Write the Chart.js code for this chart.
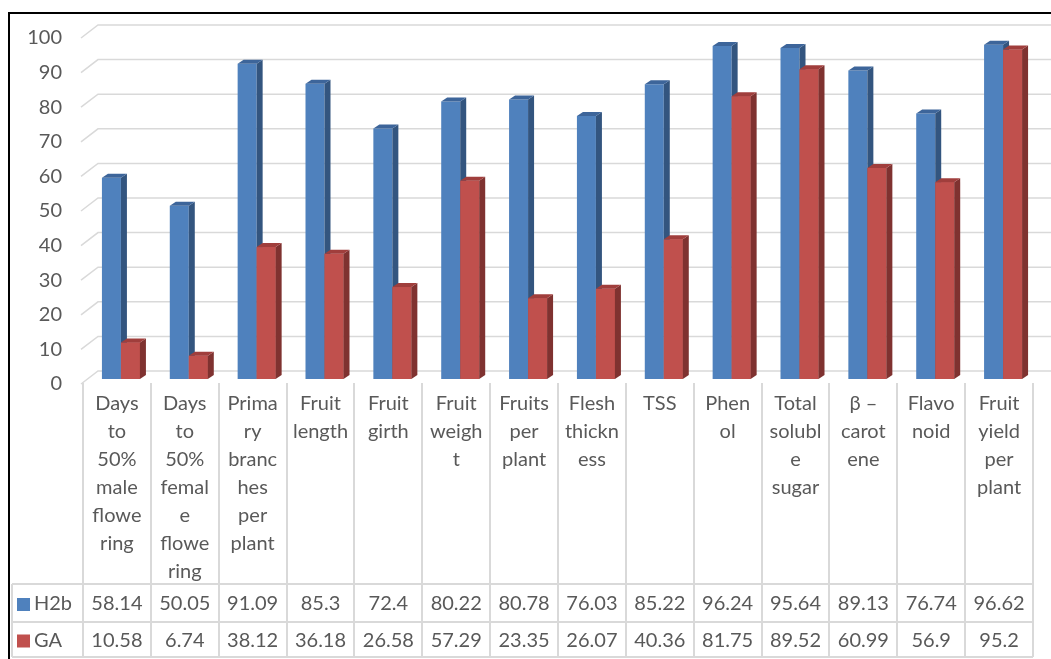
<!DOCTYPE html>
<html>
<head>
<meta charset="utf-8">
<script src="https://cdn.jsdelivr.net/npm/chart.js@4.4.1/dist/chart.umd.min.js"></script>
<style>
  body { margin: 0; background: #fff; }
  canvas { display: block; }
</style>
</head>
<body>
<canvas id="chart" width="1051" height="659"></canvas>
<script>
// category labels, already broken the way the table cells wrap them
const traits = [
  ['Days', 'to', '50%', 'male', 'flowe', 'ring'],
  ['Days', 'to', '50%', 'femal', 'e', 'flowe', 'ring'],
  ['Prima', 'ry', 'branc', 'hes', 'per', 'plant'],
  ['Fruit', 'length'],
  ['Fruit', 'girth'],
  ['Fruit', 'weigh', 't'],
  ['Fruits', 'per', 'plant'],
  ['Flesh', 'thickn', 'ess'],
  ['TSS'],
  ['Phen', 'ol'],
  ['Total', 'solubl', 'e', 'sugar'],
  ['β –', 'carot', 'ene'],
  ['Flavo', 'noid'],
  ['Fruit', 'yield', 'per', 'plant']
]
const h2bValues = [58.14, 50.05, 91.09, 85.3, 72.4, 80.22, 80.78, 76.03, 85.22, 96.24, 95.64, 89.13, 76.74, 96.62]
const gaValues = [10.58, 6.74, 38.12, 36.18, 26.58, 57.29, 23.35, 26.07, 40.36, 81.75, 89.52, 60.99, 56.9, 95.2]
const seriesNames = ['H2b', 'GA']

const frontColors = ['#4F81BD', '#C0504D']
const sideColors = ['#33557F', '#7F3230']
const topColors = ['#3D659A', '#A03E3C']
const textColor = '#595959'
const lineColor = '#D9D9D9'

const depthX = 6
const depthY = 4
const shiftX = 4

const excel3d = {
  id: 'excel3d',
  beforeDraw(chart) {
    const { ctx } = chart
    ctx.save()
    ctx.strokeStyle = '#000'
    ctx.lineWidth = 2
    ctx.beginPath()
    ctx.moveTo(9, chart.height + 5)
    ctx.lineTo(9, 13)
    ctx.lineTo(chart.width + 5, 13)
    ctx.stroke()
    ctx.restore()
  },
  beforeDatasetsDraw(chart) {
    const { ctx, scales: { y }, chartArea } = chart
    // back wall + floor edge lines
    ctx.save()
    ctx.strokeStyle = lineColor
    ctx.lineWidth = 1.5
    y.ticks.forEach(t => {
      const py = y.getPixelForValue(t.value)
      ctx.beginPath()
      ctx.moveTo(chartArea.left - 2, py + 5)
      ctx.lineTo(chartArea.left + 15, py - 8)
      ctx.lineTo(chart.width, py - 8)
      ctx.stroke()
    })
    ctx.restore()

    ctx.save()
    ctx.translate(shiftX, 0)
  },
  afterDatasetsDraw(chart) {
    const { ctx } = chart
    const metas = [chart.getDatasetMeta(0), chart.getDatasetMeta(1)]

    metas[0].data.forEach((_, i) => {
      metas.forEach((meta, d) => {
        const bar = meta.data[i]
        const left = bar.x - bar.width / 2
        const right = bar.x + bar.width / 2

        // redraw the front of the 2nd series so it hides the 1st one's side
        if (d > 0) {
          ctx.fillStyle = frontColors[d]
          ctx.fillRect(left, bar.y, bar.width, bar.base - bar.y)
        }

        ctx.fillStyle = sideColors[d]
        ctx.beginPath()
        ctx.moveTo(right, bar.y)
        ctx.lineTo(right + depthX, bar.y - depthY)
        ctx.lineTo(right + depthX, bar.base - depthY)
        ctx.lineTo(right, bar.base)
        ctx.closePath()
        ctx.fill()

        ctx.fillStyle = topColors[d]
        ctx.beginPath()
        ctx.moveTo(left, bar.y)
        ctx.lineTo(left + depthX, bar.y - depthY)
        ctx.lineTo(right + depthX, bar.y - depthY)
        ctx.lineTo(right, bar.y)
        ctx.closePath()
        ctx.fill()
      })
    })
    ctx.restore()
  },
  afterDraw(chart) {
    const { ctx, scales: { x }, chartArea } = chart
    const colW = x.width / traits.length
    const tableLeft = 12
    const headTop = chartArea.bottom + 4
    const rowTops = [584, 622]
    const tableBottom = 657

    ctx.save()
    ctx.strokeStyle = lineColor
    ctx.lineWidth = 2

    for (let k = 0; k <= traits.length; k++) {
      const px = Math.round(x.left + k * colW)
      ctx.beginPath()
      ctx.moveTo(px, headTop)
      ctx.lineTo(px, tableBottom)
      ctx.stroke()
    }
    ctx.beginPath()
    ctx.moveTo(tableLeft, rowTops[0])
    ctx.lineTo(tableLeft, tableBottom)
    ctx.stroke()
    ;[...rowTops, tableBottom].forEach(py => {
      ctx.beginPath()
      ctx.moveTo(tableLeft, py)
      ctx.lineTo(x.right, py)
      ctx.stroke()
    })

    ctx.font = '20px Lato'
    ctx.textBaseline = 'middle'
    const rows = [h2bValues, gaValues]
    rows.forEach((vals, r) => {
      const cy = (r === 0 ? (rowTops[0] + rowTops[1]) : (rowTops[1] + tableBottom)) / 2 + 1
      ctx.fillStyle = frontColors[r]
      ctx.fillRect(tableLeft + 5, cy - 6, 13, 13)
      ctx.fillStyle = textColor
      ctx.textAlign = 'left'
      ctx.fillText(seriesNames[r], tableLeft + 22, cy)
      ctx.textAlign = 'center'
      vals.forEach((v, i) => {
        ctx.fillText(String(v), x.getPixelForValue(i), cy)
      })
    })
    ctx.restore()
  }
}

Chart.defaults.font.family = 'Lato'
Chart.defaults.color = textColor

new Chart(document.getElementById('chart'), {
  type: 'bar',
  data: {
    labels: traits,
    datasets: [
      { label: seriesNames[0], data: h2bValues, backgroundColor: frontColors[0], borderWidth: 0 },
      { label: seriesNames[1], data: gaValues, backgroundColor: frontColors[1], borderWidth: 0 }
    ]
  },
  options: {
    responsive: false,
    animation: false,
    events: [],
    categoryPercentage: 0.56,
    barPercentage: 1,
    layout: { padding: { top: 32, right: 18, bottom: 0, left: 0 } },
    plugins: {
      legend: { display: false },
      tooltip: { enabled: false }
    },
    scales: {
      x: {
        grid: { display: false, drawTicks: false },
        border: { display: false },
        ticks: {
          autoSkip: false,
          maxRotation: 0,
          padding: 11,
          color: textColor,
          font: { size: 20, lineHeight: 1.4 }
        },
        afterFit: (scale) => { scale.height = 280 }
      },
      y: {
        min: 0,
        max: 100,
        grid: { display: false, drawTicks: false },
        border: { display: false },
        ticks: {
          stepSize: 10,
          padding: 21,
          labelOffset: 5,
          color: textColor,
          font: { size: 20 }
        },
        afterFit: (scale) => { scale.width = 83 }
      }
    }
  },
  plugins: [excel3d]
})
</script>
</body>
</html>
